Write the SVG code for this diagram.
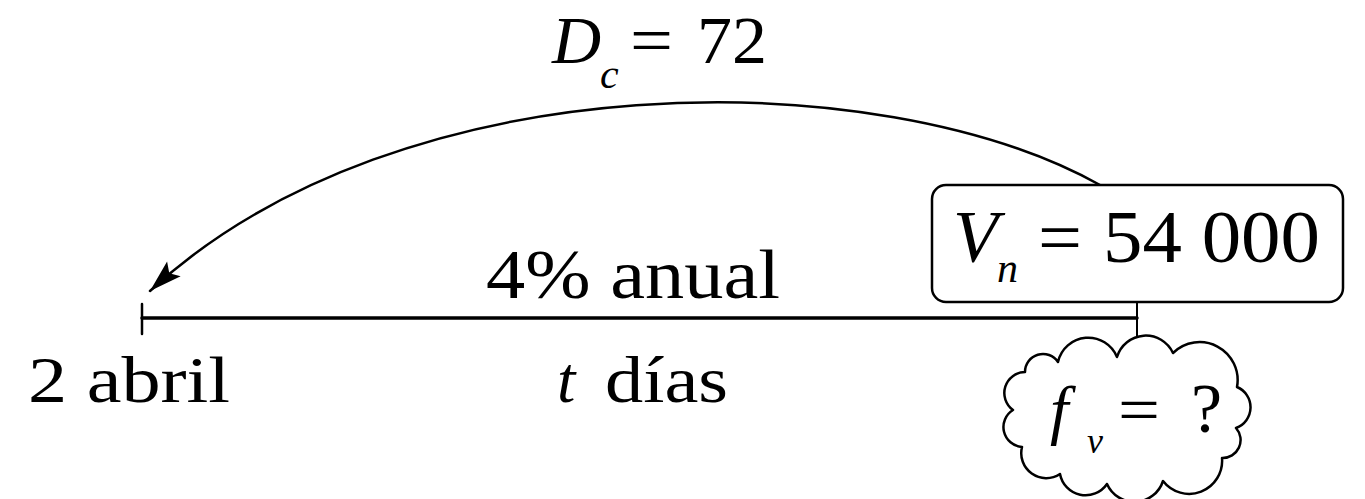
<svg xmlns="http://www.w3.org/2000/svg" width="1365" height="499" viewBox="0 0 1365 499">
  <style>
    text { font-family: "Liberation Serif", "Times New Roman", serif; fill: #000; }
    .it { font-style: italic; }
    .line { fill: none; stroke: #000; stroke-linecap: round; stroke-linejoin: round; }
  </style>
  <defs>
    <marker id="arrow" markerUnits="userSpaceOnUse" markerWidth="40" markerHeight="40" viewBox="-2 -12 32 24" refX="26" refY="0" orient="auto" overflow="visible">
      <path d="M0,-8 L26,0 L0,8 L5,0 z" fill="#000"/>
    </marker>
  </defs>
  <rect width="1365" height="499" fill="#fff"/>

  <g id="connectors">
    <path id="arc-dc" class="line" stroke-width="2.5" d="M1100,185 C880,62 400,60 150,291" marker-end="url(#arrow)"/>
    <line id="timeline" class="line" stroke-width="3.5" x1="142" y1="318" x2="1137" y2="318"/>
    <line id="tick-start" class="line" stroke-width="2.5" x1="142" y1="304" x2="142" y2="334"/>
    <line id="link-fv" class="line" stroke-width="2" x1="1137" y1="302" x2="1137" y2="336"/>
  </g>

  <g id="label-dc">
    <text x="552" y="63" font-size="68" class="it">D</text>
    <text x="600" y="88" font-size="42" class="it">c</text>
    <text x="630" y="63" font-size="68" textLength="43" lengthAdjust="spacingAndGlyphs">=</text>
    <text x="697" y="63" font-size="68" textLength="70" lengthAdjust="spacingAndGlyphs">72</text>
  </g>

  <g id="label-rate">
    <text x="486" y="298" font-size="70" textLength="294" lengthAdjust="spacingAndGlyphs">4% anual</text>
  </g>

  <g id="node-start">
    <text x="28" y="402" font-size="66" textLength="202" lengthAdjust="spacingAndGlyphs">2 abril</text>
  </g>

  <g id="label-time">
    <text x="557" y="402" font-size="66" class="it">t</text>
    <text x="605" y="402" font-size="66" textLength="123" lengthAdjust="spacingAndGlyphs">días</text>
  </g>

  <g id="node-vn">
    <rect x="932" y="185" width="411" height="117" rx="14" ry="14" fill="#fff" stroke="#000" stroke-width="2.5"/>
    <text x="953" y="262" font-size="74" class="it">V</text>
    <text x="997" y="282" font-size="42" class="it">n</text>
    <text x="1038" y="262" font-size="74" textLength="44" lengthAdjust="spacingAndGlyphs">=</text>
    <text x="1103" y="262" font-size="74" textLength="217" lengthAdjust="spacingAndGlyphs">54 000</text>
  </g>

  <g id="node-fv">
    <path class="line" fill="#fff" stroke-width="2.5" d="M1025,372 A18,18 0 0 1 1058,362 A31,31 0 0 1 1117,357 A30,30 0 0 1 1173,353 A38,38 0 0 1 1237,387 A22,22 0 0 1 1236,428 A18,18 0 0 1 1222,458 A33,33 0 0 1 1163,481 A30,30 0 0 1 1107,484 A26,26 0 0 1 1060,474 A25,25 0 0 1 1022,447 A20,20 0 0 1 1013,410 A21,21 0 0 1 1025,372 Z"/>
    <text x="1050" y="432" font-size="66" class="it">f</text>
    <text x="1087" y="453" font-size="36" class="it">v</text>
    <text x="1118" y="432" font-size="66" textLength="42" lengthAdjust="spacingAndGlyphs">=</text>
    <text x="1191" y="432" font-size="70">?</text>
  </g>
</svg>
